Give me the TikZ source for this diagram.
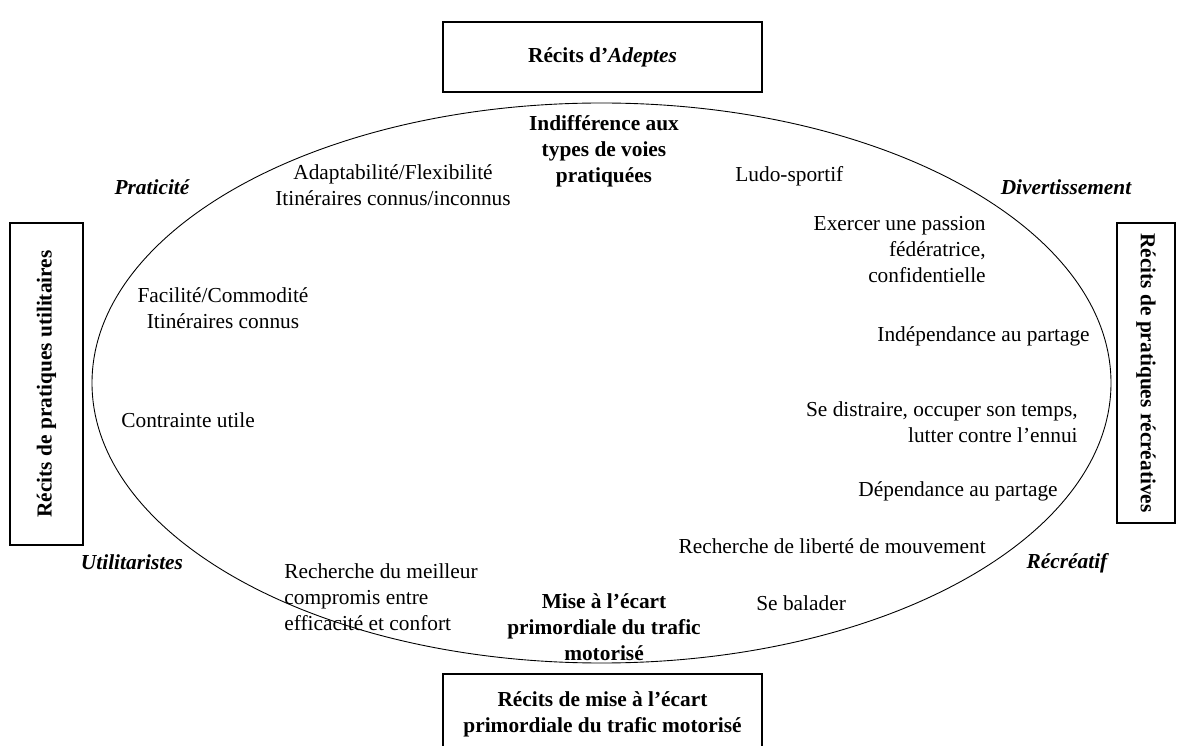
\documentclass[tikz,border=0pt,12pt]{standalone}
\usepackage{fontspec}
\setmainfont{Liberation Serif}

\tikzset{
  cadre/.style={draw,line width=0.9pt,font=\bfseries,align=center,inner sep=0pt},
  texte/.style={inner sep=0pt,align=center},
  pole/.style={inner sep=0pt,font=\bfseries\itshape},
  axe/.style={inner sep=0pt,align=center,font=\bfseries}
}

\begin{document}
\begin{tikzpicture}[x=0.562pt,y=-0.562pt]
  \useasboundingbox (0,0) rectangle (1177,746); % cadre de la page
  \draw[line width=0.5pt] (601.5,383) ellipse [x radius=509.5,y radius=280]; % ellipse centrale
  \node[cadre,minimum width=179.3pt,minimum height=39.3pt] (adeptes) at (602.5,57) {Récits d’\textit{Adeptes}}; % cadre du haut
  \node[cadre,minimum width=179.3pt,minimum height=45.5pt] (ecart) at (602.5,714.5) {Récits de mise à l’écart\\primordiale du trafic motorisé}; % cadre du bas
  \node[cadre,rotate=90,minimum width=181pt,minimum height=41pt] (utilitaires) at (46.5,384) {Récits de pratiques utilitaires}; % cadre de gauche
  \node[cadre,rotate=-90,minimum width=168.6pt,minimum height=32.6pt] (recreatives) at (1146,373) {Récits de pratiques récréatives}; % cadre de droite
  \node[axe] (indiff) at (604,151) {Indifférence aux\\types de voies\\pratiquées}; % pôle du haut
  \node[axe] (mise) at (604,627) {Mise à l’écart\\primordiale du trafic\\motorisé}; % pôle du bas
  \node[pole] (praticite) at (152,187) {Praticité}; % quadrant haut gauche
  \node[pole] (divert) at (1066,187) {Divertissement}; % quadrant haut droit
  \node[pole] (utilit) at (132,562) {Utilitaristes}; % quadrant bas gauche
  \node[pole] (recreatif) at (1067,563) {Récréatif}; % quadrant bas droit
  \node[texte] (adapt) at (393,185.5) {Adaptabilité/Flexibilité\\Itinéraires connus/inconnus};
  \node[texte,anchor=west] (ludo) at (735,176) {Ludo-sportif};
  \node[texte,align=right,anchor=east] (passion) at (986,249.5) {Exercer une passion\\fédératrice,\\confidentielle};
  \node[texte] (facilite) at (223,308) {Facilité/Commodité\\Itinéraires connus};
  \node[texte,anchor=east] (indep) at (1090,336) {Indépendance au partage};
  \node[texte,anchor=west] (contrainte) at (121,420) {Contrainte utile};
  \node[texte,align=right,anchor=east] (distraire) at (1078,422.5) {Se distraire, occuper son temps,\\lutter contre l’ennui};
  \node[texte,anchor=east] (dep) at (1058,491) {Dépendance au partage};
  \node[texte,anchor=east] (liberte) at (986,546) {Recherche de liberté de mouvement};
  \node[texte,align=left,anchor=west] (compromis) at (284,597) {Recherche du meilleur\\compromis entre\\efficacité et confort};
  \node[texte,anchor=west] (balader) at (756,603) {Se balader};
\end{tikzpicture}
\end{document}
